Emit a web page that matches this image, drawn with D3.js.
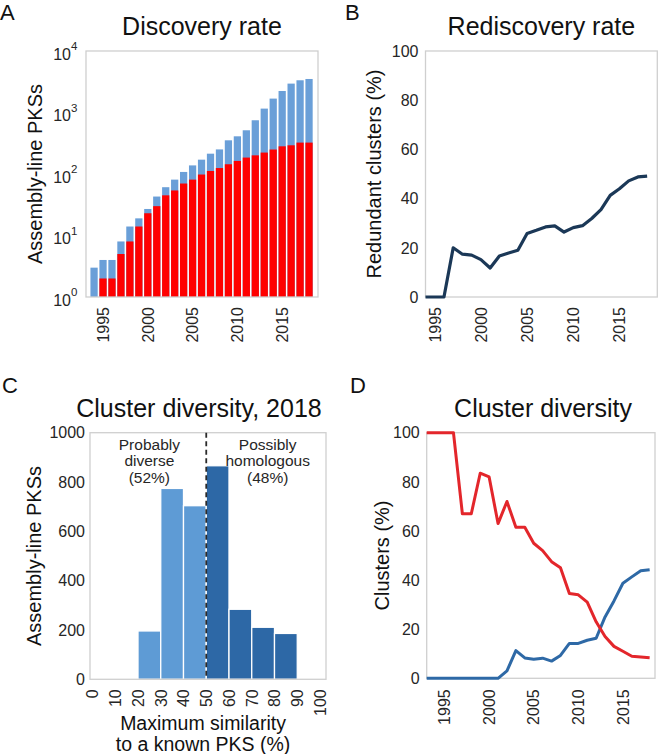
<!DOCTYPE html>
<html><head><meta charset="utf-8">
<script src="https://cdn.jsdelivr.net/npm/d3@7"></script>
<style>
html,body{margin:0;padding:0;background:#fff;}
svg{display:block;font-family:"Liberation Sans",Arial,Helvetica,sans-serif;}
</style></head>
<body>
<svg id="chart" width="660" height="754"></svg>
<script>
// ---------- DATA ----------
const yearsA = [1994,1995,1996,1997,1998,1999,2000,2001,2002,2003,2004,2005,2006,2007,2008,2009,2010,2011,2012,2013,2014,2015,2016,2017,2018];
const totalPKS = [3,4,4,8,14,19,27,43,61,81,108,138,171,214,251,353,410,514,748,1157,1683,2238,2950,3342,3508];
const diversePKS = [1,2,2,5,8,14,23,30,45,54,70,81,98,112,125,144,163,185,201,223,250,282,293,324,324];
const logTicks = [1,10,100,1000,10000];
const logTickExp = ["0","1","2","3","4"];
const yearTicks = [1995,2000,2005,2010,2015];

const yearsB = [1994,1995,1996,1997,1998,1999,2000,2001,2002,2003,2004,2005,2006,2007,2008,2009,2010,2011,2012,2013,2014,2015,2016,2017,2018];
const redundantPct = [0,0,0,20,17.4,17,15.2,11.8,16.7,17.9,19,25.8,27.1,28.5,28.9,26.4,28.2,29,31.9,35.5,41.3,44,47.2,48.8,49.1];
const pctTicks = [0,20,40,60,80,100];

const binStart = [0,10,20,30,40,50,60,70,80,90];
const binCounts = [0,0,196,774,704,866,284,211,186,0];
const simTicks = [0,10,20,30,40,50,60,70,80,90,100];
const countTicks = [0,200,400,600,800,1000];

const yearsD = [1993,1994,1995,1996,1997,1998,1999,2000,2001,2002,2003,2004,2005,2006,2007,2008,2009,2010,2011,2012,2013,2014,2015,2016,2017,2018];
const diversePct = [100,100,100,100,67,67,83.5,82,63,72,61.5,61.5,55,52,47.5,45,34.5,34,31,23,17,13,11,9,8.7,8.4];
const homologousPct = [0,0,0,0,0,0,0,0,0,3,11.3,8.3,7.8,8.2,7,9.3,14.2,14.2,15.5,16.3,25,31.5,38.7,41.3,43.8,44.2];

// ---------- STYLE ----------
const frameColor = "#cfcfcf";
const tickColor = "#262626";
const tickFont = 16;
const labelFont = 20;
const titleFont = 25;
const letterFont = 22;

const svg = d3.select("#chart");

function frame(x0,x1,y0,y1){
  svg.append("rect").attr("x",x0).attr("y",y0).attr("width",x1-x0).attr("height",y1-y0)
    .attr("fill","none").attr("stroke",frameColor).attr("stroke-width",1.3);
}
function title(txt,x,y){
  svg.append("text").attr("x",x).attr("y",y).attr("text-anchor","middle")
    .attr("font-size",titleFont).attr("fill","#111").text(txt);
}
function letter(txt,x,y){
  svg.append("text").attr("x",x).attr("y",y).attr("font-size",letterFont).attr("fill","#111").text(txt);
}
function yLabel(txt,x,y){
  svg.append("text").attr("transform",`translate(${x},${y}) rotate(-90)`).attr("text-anchor","middle")
    .attr("font-size",labelFont).attr("fill","#111").text(txt);
}
function yTicks(scale,ticks,xRight){
  const g = svg.append("g");
  g.selectAll("text").data(ticks).join("text")
    .attr("x",xRight).attr("y",d=>scale(d)).attr("dy","0.36em").attr("text-anchor","end")
    .attr("font-size",tickFont).attr("fill",tickColor).text(d=>d);
}
function xTicksRot(scale,ticks,yTop){
  const g = svg.append("g");
  g.selectAll("text").data(ticks).join("text")
    .attr("transform",d=>`translate(${scale(d)},${yTop}) rotate(-90)`)
    .attr("dy","0.36em").attr("text-anchor","end")
    .attr("font-size",tickFont).attr("fill",tickColor).text(d=>d);
}

// ---------- PANEL A ----------
{
  const L=86,R=318,T=51,B=297;
  const x = d3.scaleLinear().domain([1993.1,2019]).range([L,R]);
  const y = d3.scaleLog().domain([1,10000]).range([B,T]);
  const pitch = x(1995)-x(1994);
  const bw = pitch-1.7;
  svg.append("g").selectAll("rect").data(yearsA).join("rect")
    .attr("x",d=>x(d)-bw/2).attr("width",bw)
    .attr("y",(d,i)=>y(totalPKS[i])).attr("height",(d,i)=>B-y(totalPKS[i]))
    .attr("fill","#6a9fd8");
  svg.append("g").selectAll("rect").data(yearsA).join("rect")
    .attr("x",d=>x(d)-bw/2).attr("width",bw)
    .attr("y",(d,i)=>y(diversePKS[i])).attr("height",(d,i)=>B-y(diversePKS[i]))
    .attr("fill","#ff0000");
  frame(L,R,T,B);
  const g = svg.append("g");
  const t = g.selectAll("text").data(logTicks).join("text")
    .attr("x",L-15).attr("y",d=>y(d)).attr("dy","0.55em").attr("text-anchor","end")
    .attr("font-size",tickFont).attr("fill",tickColor);
  t.append("tspan").text("10");
  g.selectAll("text.sup").data(logTicks).join("text").attr("class","sup")
    .attr("x",L-15).attr("y",d=>y(d)).attr("dy","-0.05em")
    .attr("font-size",11.5).attr("fill",tickColor).text((d,i)=>logTickExp[i]);
  xTicksRot(x,yearTicks,B+10);
  yLabel("Assembly-line PKSs",42,(T+B)/2);
  title("Discovery rate",(L+R)/2,35);
  letter("A",0,20);
}

// ---------- PANEL B ----------
{
  const L=425.5,R=657.3,T=51,B=297;
  const x = d3.scaleLinear().domain([1994,2019.1]).range([L,R]);
  const y = d3.scaleLinear().domain([0,100]).range([B,T]);
  frame(L,R,T,B);
  svg.append("path").datum(yearsB)
    .attr("d",d3.line().x(d=>x(d)).y((d,i)=>y(redundantPct[i])))
    .attr("fill","none").attr("stroke","#1b3857").attr("stroke-width",3.2).attr("stroke-linejoin","round");
  yTicks(y,pctTicks,L-7);
  xTicksRot(x,yearTicks,B+10);
  yLabel("Redundant clusters (%)",381,(T+B)/2);
  title("Rediscovery rate",(L+R)/2,35);
  letter("B",345,20);
}

// ---------- PANEL C ----------
{
  const L=90,R=326,T=432.7,B=679.3;
  const x = d3.scaleLinear().domain([0,100]).range([92.5,320]);
  const y = d3.scaleLinear().domain([0,1000]).range([B,T]);
  svg.append("g").selectAll("rect").data(binStart).join("rect")
    .attr("x",d=>x(d)).attr("width",d=>x(d+10)-x(d))
    .attr("y",(d,i)=>y(binCounts[i])).attr("height",(d,i)=>B-y(binCounts[i]))
    .attr("fill",d=>d<50?"#5e9bd5":"#2d68a6").attr("stroke","#fff").attr("stroke-width",1.3);
  frame(L,R,T,B);
  svg.append("line").attr("x1",x(50)).attr("x2",x(50)).attr("y1",T).attr("y2",B)
    .attr("stroke","#2a2a2a").attr("stroke-width",1.8).attr("stroke-dasharray","5,3.5");
  yTicks(y,countTicks,L-5);
  xTicksRot(x,simTicks,B+10);
  const ann = [
    {lines:["Probably","diverse","(52%)"], xv:25},
    {lines:["Possibly","homologous","(48%)"], xv:77}
  ];
  ann.forEach(a=>{
    a.lines.forEach((s,j)=>{
      svg.append("text").attr("x",x(a.xv)).attr("y",449.5+j*16.5).attr("text-anchor","middle")
        .attr("font-size",15.5).attr("fill","#262626").text(s);
    });
  });
  yLabel("Assembly-line PKSs",41,(T+B)/2);
  svg.append("text").attr("x",203).attr("y",729.5).attr("text-anchor","middle")
    .attr("font-size",19.5).attr("fill","#111").text("Maximum similarity");
  svg.append("text").attr("x",203).attr("y",750.5).attr("text-anchor","middle")
    .attr("font-size",19.5).attr("fill","#111").text("to a known PKS (%)");
  title("Cluster diversity, 2018",199,416.5);
  letter("C",2,393);
}

// ---------- PANEL D ----------
{
  const L=426.7,R=655,T=432.7,B=678.3;
  const x = d3.scaleLinear().domain([1993,2018.6]).range([L,R]);
  const y = d3.scaleLinear().domain([0,100]).range([B,T]);
  frame(L,R,T,B);
  svg.append("path").datum(yearsD)
    .attr("d",d3.line().x(d=>x(d)).y((d,i)=>y(homologousPct[i])))
    .attr("fill","none").attr("stroke","#2e69a6").attr("stroke-width",3).attr("stroke-linejoin","round");
  svg.append("path").datum(yearsD)
    .attr("d",d3.line().x(d=>x(d)).y((d,i)=>y(diversePct[i])))
    .attr("fill","none").attr("stroke","#e3262b").attr("stroke-width",3).attr("stroke-linejoin","round");
  yTicks(y,pctTicks,L-7);
  xTicksRot(x,yearTicks,B+11);
  yLabel("Clusters (%)",389,(T+B)/2);
  title("Cluster diversity",543,416.5);
  letter("D",350,393);
}
</script>
</body></html>
